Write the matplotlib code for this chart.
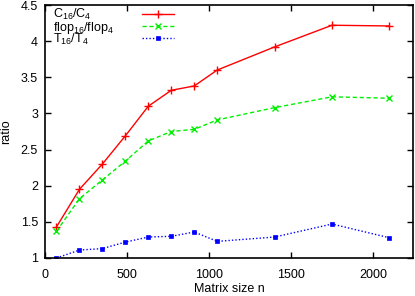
import matplotlib
matplotlib.use("Agg")
import matplotlib.pyplot as plt

n = [70, 210, 350, 490, 630, 770, 910, 1050, 1400, 1750, 2100]
c_ratio = [1.43, 1.95, 2.30, 2.69, 3.10, 3.32, 3.38, 3.60, 3.92, 4.22, 4.21]
flop_ratio = [1.37, 1.82, 2.08, 2.34, 2.62, 2.75, 2.78, 2.91, 3.08, 3.23, 3.21]
t_ratio = [1.00, 1.11, 1.13, 1.22, 1.29, 1.30, 1.36, 1.23, 1.29, 1.47, 1.28]
labels = ["C$_{16}$/C$_4$", "flop$_{16}$/flop$_4$", "T$_{16}$/T$_4$"]
xticks = [0, 500, 1000, 1500, 2000]
yticks = [1, 1.5, 2, 2.5, 3, 3.5, 4, 4.5]
ytick_labels = ["1", "1.5", "2", "2.5", "3", "3.5", "4", "4.5"]

plt.rcParams['font.family'] = ['Liberation Sans', 'DejaVu Sans']
plt.rcParams['mathtext.fontset'] = 'custom'
plt.rcParams['mathtext.rm'] = 'Liberation Sans'
plt.rcParams['mathtext.it'] = 'Liberation Sans'

W, H = 415, 296
L, R, T, B = 45, 413, 5, 258
fig = plt.figure(figsize=(W/100, H/100), dpi=100)
ax = fig.add_axes([L/W, 1-B/H, (R-L)/W, (B-T)/H])

def ax_x(px):
    return (px - L) / (R - L)

def ax_y(py):
    return (B - py) / (B - T)

l1, = ax.plot(n, c_ratio, color='#ff0000', lw=1.0, ls='-', marker='+', ms=5.5, mew=1.0)
l2, = ax.plot(n, flop_ratio, color='#00f000', lw=1.0, ls=(0, (3, 2)), marker='x', ms=3.8, mew=1.0)
l3, = ax.plot(n, t_ratio, color='#0000ff', lw=1.0, ls=(0, (1, 1.5)), marker='s', ms=3.2, mew=0.5)

ax.set_xlim(0, 2244)
ax.set_ylim(1, 4.5)
ax.set_xticks(xticks)
ax.set_yticks(yticks)
ax.set_yticklabels(ytick_labels)
ax.tick_params(direction='in', top=True, right=True, length=4, width=1, labelsize=9)
ax.tick_params(axis='x', pad=8)
ax.tick_params(axis='y', pad=5)
for s in ax.spines.values():
    s.set_linewidth(1.2)
ax.set_xlabel("Matrix size n", fontsize=9, labelpad=1.5)
ax.set_ylabel("ratio", fontsize=9, labelpad=6)

# legend: samples via legend, labels left-aligned like gnuplot
leg = ax.legend([l1, l2, l3], ['', '', ''], loc='upper left', frameon=False,
                fontsize=8, handlelength=2.88, handletextpad=0, labelspacing=0.2,
                borderpad=0, borderaxespad=0, bbox_to_anchor=(ax_x(142), ax_y(9.5)))
for lab, py in zip(labels, [18, 30.5, 43]):
    ax.text(ax_x(53), ax_y(py), lab, transform=ax.transAxes, fontsize=9,
            ha='left', va='baseline')

fig.savefig("out.png", dpi=100)
